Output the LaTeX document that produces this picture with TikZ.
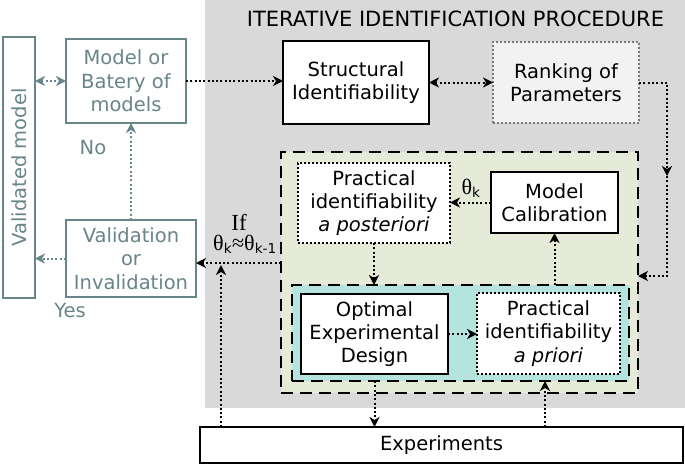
\documentclass[tikz,border=0pt]{standalone}
\usepackage{fontspec}
\usepackage{graphicx}
\setmainfont{DejaVu Sans}
\newfontfamily\serifthing{Liberation Serif}
\usetikzlibrary{arrows.meta,calc}
\definecolor{bggray}{RGB}{217,217,217}
\definecolor{greenfill}{RGB}{229,234,217}
\definecolor{cyanfill}{RGB}{181,228,222}
\definecolor{leftcol}{RGB}{104,133,138}
\definecolor{rankfill}{RGB}{242,242,242}
\definecolor{rankdraw}{RGB}{120,120,120}
\newcommand{\thet}{{\serifthing\fontsize{22}{24}\selectfont θ}}
\tikzset{
  txt/.style={font=\fontsize{19.5}{23.3}\selectfont, align=center, inner sep=0pt, outer sep=0pt},
  thickbox/.style={txt, draw=black, line width=2pt, fill=white},
  dotbox/.style={txt, draw=black, line width=2pt, dash pattern=on 2pt off 2pt, fill=white},
  rankbox/.style={txt, draw=rankdraw, line width=2pt, dash pattern=on 2pt off 2pt, fill=rankfill},
  leftbox/.style={txt, draw=leftcol, line width=2pt, text=leftcol, fill=white},
  dashbox/.style={draw=black, line width=2.6pt, dash pattern=on 12pt off 7pt, inner sep=0pt, outer sep=0pt},
  arr/.style={draw=black, line width=2pt, dash pattern=on 2pt off 2.3pt, -{Stealth[length=10pt,width=10pt,inset=3pt]}},
  arrboth/.style={arr, {Stealth[length=10pt,width=10pt,inset=3pt]}-{Stealth[length=10pt,width=10pt,inset=3pt]}},
  garr/.style={draw=leftcol, line width=2pt, dash pattern=on 2pt off 2.3pt, -{Stealth[length=10pt,width=10pt,inset=3pt]}},
  garrboth/.style={garr, {Stealth[length=10pt,width=10pt,inset=3pt]}-{Stealth[length=10pt,width=10pt,inset=3pt]}},
  lbl/.style={font=\fontsize{19.5}{23.3}\selectfont, inner sep=0pt, align=center},
}
\begin{document}
\begin{tikzpicture}[x=1pt,y=-1pt]
\useasboundingbox (0,0) rectangle (685,466);
% gray background
\fill[bggray] (205,0) rectangle (685,408);
\node[lbl, font=\fontsize{21}{25}\selectfont] (title) at (455.5,19) {ITERATIVE IDENTIFICATION PROCEDURE};

% left column
\node[leftbox, minimum width=32pt, minimum height=261pt] (valid) at (19,167.5) {\rotatebox{90}{Validated model}};
\node[leftbox, minimum width=120pt, minimum height=84pt] (model) at (126,81) {Model or\\Batery of\\models};
\node[leftbox, minimum width=130pt, minimum height=77pt] (validation) at (131,258.5) {Validation\\or\\Invalidation};
\node[lbl, text=leftcol] (no) at (93,148) {No};
\node[lbl, text=leftcol] (yes) at (70,311) {Yes};

% top boxes
\node[thickbox, minimum width=146pt, minimum height=83pt] (struct) at (356,82.5) {Structural\\Identifiability};
\node[rankbox, minimum width=146pt, minimum height=81pt] (rank) at (566,82.5) {Ranking of\\Parameters};

% green and cyan areas
\node[dashbox, fill=greenfill, minimum width=357pt, minimum height=241pt] (green) at (459.5,272.5) {};
\node[dashbox, fill=cyanfill, minimum width=337pt, minimum height=96pt] (cyan) at (460.5,333) {};

\node[dotbox, minimum width=152pt, minimum height=80pt] (post) at (374,203) {Practical\\identifiability\\\textit{a posteriori}};
\node[thickbox, minimum width=127pt, minimum height=61pt] (calib) at (554.5,202.5) {Model\\Calibration};
\node[thickbox, minimum width=147pt, minimum height=80pt] (oed) at (374.5,334) {Optimal\\Experimental\\Design};
\node[dotbox, minimum width=143pt, minimum height=81pt] (prior) at (548.5,333.5) {Practical\\identifiability\\\textit{a priori}};

\node[thickbox, minimum width=483pt, minimum height=36pt] (exper) at (441.5,445) {Experiments};

% labels
\node[lbl] (thk) at (471,188) {\thet\textsubscript{k}};
\node[lbl, font=\serifthing\fontsize{23}{25}\selectfont] (ifl) at (239,222) {If};
\node[lbl] (cond) at (245,244) {\thet\textsubscript{k}{\serifthing\fontsize{22}{24}\selectfont ≈}\thet\textsubscript{k-1}};

% coordinates
\coordinate (rtmid) at (667,176);
\coordinate (rtbot) at (667,276);
\coordinate (yline) at (0,263);
\coordinate (expl) at (221,427);

% connectors
\draw[garrboth] (valid.east |- model.west) -- (model.west);
\draw[garr] (validation.north) -- (validation.north |- model.south);
\draw[garr] (validation.west) -- (validation.west -| valid.east);
\draw[arr] (model.east) -- (model.east -| struct.west);
\draw[arrboth] (struct.east) -- (rank.west);
\draw[arr] (rank.east) -| (rtmid);
\draw[arr] (rtmid) -- (rtbot) -- (rtbot -| green.east);
\draw[arr] (calib.west) -- (calib.west -| post.east);
\draw[arr] (post.south) -- (post.south |- cyan.north);
\draw[arr] (calib.south |- cyan.north) -- (calib.south);
\draw[arr] (oed.east) -- (oed.east -| prior.west);
\draw[arr] (oed.south |- cyan.south) -- (oed.south |- exper.north);
\draw[arr] (545,0 |- exper.north) -- (545,0 |- cyan.south);
\draw[arr] (green.west |- yline) -- (validation.east |- yline);
\draw[arr] (expl) -- ($(expl |- yline)+(0,2)$);
\end{tikzpicture}
\end{document}
